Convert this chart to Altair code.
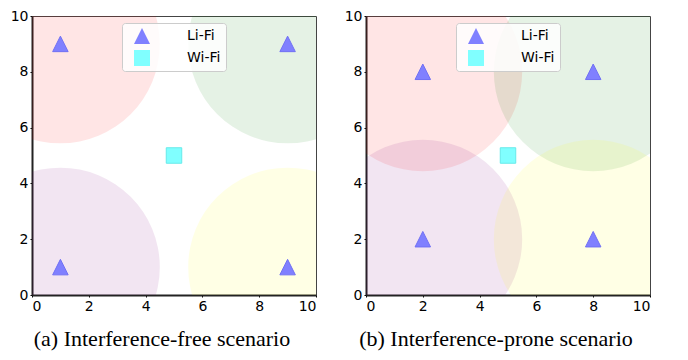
import altair as alt
import pandas as pd

# ---- data ----
ticks = [0, 2, 4, 6, 8, 10]
circle_colors = ["#ff0000", "#008000", "#800080", "#ffff00"]
radius = 3.5

# panel (a)
a_cx = [1, 9, 1, 9]
a_cy = [9, 9, 1, 1]
a_wifi_x = [5]
a_wifi_y = [5]

# panel (b)
b_cx = [2, 8, 2, 8]
b_cy = [8, 8, 2, 2]
b_wifi_x = [5]
b_wifi_y = [5]

captions = ["(a) Interference-free scenario", "(b) Interference-prone scenario"]

W = 284
H = 279
TRI = "M0,-1L1,1L-1,1Z"


def panel(cx, cy, wx, wy, caption):
    circles = pd.DataFrame({"x": cx, "y": cy, "c": circle_colors})
    pts = pd.DataFrame({
        "x": cx + wx,
        "y": cy + wy,
        "type": ["Li-Fi"] * len(cx) + ["Wi-Fi"] * len(wx),
    })
    xs = alt.Scale(domain=[0, 10], nice=False, zero=False)
    ys = alt.Scale(domain=[0, 10], nice=False, zero=False)
    xax = alt.Axis(values=ticks, grid=False, title=None, labelFont="DejaVu Sans",
                   labelFontSize=14, labelColor="black", tickSize=2, tickColor="black",
                   domainColor="#222", domainWidth=2, labelPadding=2)
    yax = alt.Axis(values=ticks, grid=False, title=None, labelFont="DejaVu Sans",
                   labelFontSize=14, labelColor="black", tickSize=2, tickColor="black",
                   domainColor="#222", domainWidth=2, labelPadding=2)
    size_px = (2 * radius * W / 10) ** 2
    circ = alt.Chart(circles).mark_point(
        filled=True, shape="circle", size=size_px, fillOpacity=0.1, strokeWidth=0,
        clip=True
    ).encode(
        x=alt.X("x:Q", scale=xs, axis=xax),
        y=alt.Y("y:Q", scale=ys, axis=yax),
        fill=alt.Fill("c:N", scale=None),
    )
    dom = ["Li-Fi", "Wi-Fi"]
    fills = ["#8080ff", "#80ffff"]
    edges = ["#7070f4", "#66eaea"]
    mk = alt.Chart(pts).mark_point(
        filled=True, opacity=1, fillOpacity=1, strokeWidth=1, size=240
    ).encode(
        x=alt.X("x:Q", scale=xs),
        y=alt.Y("y:Q", scale=ys),
        color=alt.Color("type:N", scale=alt.Scale(domain=dom, range=fills),
                        legend=alt.Legend(
                            title=None, orient="none", legendX=90, legendY=7,
                            labelFont="DejaVu Sans", labelFontSize=14, labelColor="black",
                            symbolSize=256, symbolStrokeWidth=0, symbolOpacity=1,
                            symbolOffset=7, labelOffset=37, rowPadding=6, padding=5,
                            fillColor="rgba(255,255,255,0.85)", strokeColor="#cccccc",
                            cornerRadius=3)),
        shape=alt.Shape("type:N", scale=alt.Scale(domain=dom, range=[TRI, "square"])),
        stroke=alt.Stroke("type:N", scale=alt.Scale(domain=dom, range=edges), legend=None),
    )
    return alt.layer(circ, mk).properties(
        width=W, height=H,
        title=alt.TitleParams(caption, orient="bottom", font="Liberation Serif",
                              fontSize=22, fontWeight="normal", color="black",
                              offset=16, dx=-12),
    )


pa = panel(a_cx, a_cy, a_wifi_x, a_wifi_y, captions[0])
pb = panel(b_cx, b_cy, b_wifi_x, b_wifi_y, captions[1])

chart = alt.hconcat(pa, pb, spacing=26).resolve_scale(
    color="independent", shape="independent", stroke="independent",
    fill="independent"
).configure_view(stroke="#444", strokeWidth=1).properties(
    padding={"left": 1, "top": 0, "right": 0, "bottom": 0},
)

chart.save("out.html", embed_options={"renderer": "svg", "actions": False})
